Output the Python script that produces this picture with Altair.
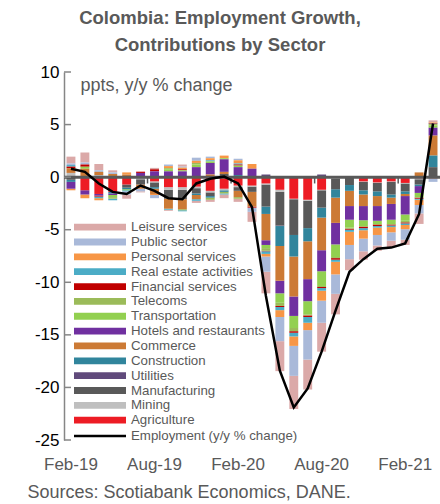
import altair as alt
import pandas as pd

FONT = "Liberation Sans"

months = ["Feb-19", "Mar-19", "Apr-19", "May-19", "Jun-19", "Jul-19", "Aug-19", "Sep-19",
          "Oct-19", "Nov-19", "Dec-19", "Jan-20", "Feb-20", "Mar-20", "Apr-20", "May-20",
          "Jun-20", "Jul-20", "Aug-20", "Sep-20", "Oct-20", "Nov-20", "Dec-20", "Jan-21",
          "Feb-21", "Mar-21", "Apr-21"]
tick_months = ["Feb-19", "Aug-19", "Feb-20", "Aug-20", "Feb-21"]
boundary_months = ["Aug-19", "Feb-20", "Aug-20", "Feb-21"]
y_ticks = [10, 5, 0, -5, -10, -15, -20, -25]

sectors = ["Leisure services", "Public sector", "Personal services", "Real estate activities",
           "Financial services", "Telecoms", "Transportation", "Hotels and restaurants",
           "Commerce", "Construction", "Utilities", "Manufacturing", "Mining", "Agriculture"]
colors = ["#DBA9A8", "#A9B9D9", "#F79646", "#4BACC6", "#C00000", "#9BBB59", "#92D050",
          "#7030A0", "#CC7A35", "#31859C", "#604A7B", "#595959", "#BFBFBF", "#ED1C24"]

leisure = [0.65, 0.95, 0.6, 0.2, -0.4, -0.1, 0.13, -0.1, 0.2, -0.2, -0.2, -0.35, -0.3, -0.95,
           -2.05, -2.85, -3.15, -2.85, -2.75, -1.95, -1.05, -0.8, -0.5, -0.6, -0.5, -1.0, 0.2]
public = [0.15, 0.2, 0.15, 0.15, -0.3, -0.25, -0.3, 0.15, 0.1, 0.3, 0.15, 0.0, 0.15, -0.4,
          -1.45, -2.3, -2.85, -2.8, -2.1, -1.85, -1.35, -1.2, -1.0, -0.8, -1.0, -0.8, -0.3]
personal = [-0.15, -0.35, -0.2, 0.0, 0.2, 0.0, -0.1, 0.2, 0.15, 0.2, 0.2, 0.25, 0.3, 0.45,
            -0.25, -0.65, -0.9, -0.7, -0.95, -1.2, -1.25, -0.8, -0.7, -0.5, -0.4, -0.5, 0.05]
real_estate = [0.15, 0.0, -0.15, -0.15, -0.1, 0.0, 0.0, -0.1, -0.1, -0.15, 0.1, -0.1, 0.1, 0.0,
               -0.25, -0.3, -0.35, -0.55, -0.25, -0.2, -0.2, -0.2, -0.15, -0.15, -0.15, -0.1, 0.05]
financial = [0.15, 0.2, -0.1, 0.0, 0.0, 0.12, 0.2, 0.0, 0.1, 0.0, 0.0, 0.0, 0.1, -0.1,
             -0.05, -0.1, -0.15, -0.15, -0.1, -0.15, -0.1, -0.15, -0.15, -0.1, -0.1, -0.1, 0.05]
telecoms = [0.0, 0.0, 0.0, -0.15, 0.0, 0.0, 0.0, 0.1, -0.1, 0.15, -0.2, -0.15, -0.15, 0.0,
            -0.25, -0.3, -0.3, -0.1, -0.1, -0.1, -0.1, 0.1, 0.1, 0.1, -0.15, -0.05, 0.15]
transport = [0.0, 0.2, 0.0, -0.2, -0.1, 0.0, 0.0, 0.2, 0.1, 0.25, 0.15, 0.1, 0.15, 0.0,
             -0.3, -0.9, -1.15, -1.25, -1.4, -1.2, -0.75, -0.6, -0.35, -0.45, -0.6, -0.4, 0.2]
hotels = [-0.65, -0.4, -0.15, -0.15, 0.0, 0.4, 0.55, 0.55, 0.55, 0.95, 1.1, 1.2, 0.75, 0.8,
          -0.45, -1.2, -1.85, -2.1, -2.0, -2.05, -1.3, -1.35, -1.4, -1.5, -1.75, -0.65, 0.75]
commerce = [0.45, 0.8, 0.3, 0.3, 0.25, -0.4, -0.5, -0.95, -0.95, -0.4, 0.25, 0.2, -0.6, -1.4,
            -2.5, -3.3, -3.8, -3.6, -3.1, -2.4, -1.45, -1.1, -0.95, -0.6, -0.2, 0.45, 1.9]
construction = [-0.2, 0.0, 0.0, -0.15, -0.15, 0.0, -0.15, 0.0, 0.0, -0.15, -0.15, -0.15, 0.2, 0.0,
                -0.7, -1.9, -2.05, -1.25, -0.95, -0.8, -0.55, -0.4, -0.45, -0.3, -0.25, -0.15, 1.1]
utilities = [0.0, 0.0, 0.0, 0.0, 0.0, 0.0, 0.0, 0.0, 0.0, 0.0, 0.0, 0.0, 0.0, 0.0,
             0.25, -0.05, 0.0, 0.0, 0.25, 0.1, 0.1, 0.0, 0.0, 0.0, 0.0, 0.0, 0.0]
manufacturing = [-0.25, 0.0, 0.0, 0.0, -0.3, -0.5, -0.45, -0.85, -0.9, -0.5, -0.35, 0.3, -0.35, -0.5,
                 -2.1, -3.2, -3.4, -2.6, -1.65, -1.0, -0.7, -0.8, -0.8, -1.2, -0.75, -0.5, 0.95]
mining = [0.4, 0.0, 0.2, 0.0, 0.0, -0.2, -0.1, -0.25, -0.25, -0.15, -0.15, -0.15, -0.15, -0.1,
          -0.1, -0.2, -0.05, -0.1, -0.05, -0.15, -0.05, -0.05, -0.05, -0.05, -0.05, -0.1, -0.05]
agriculture = [0.0, -1.25, -1.6, -1.4, -0.7, 0.0, -0.4, -0.95, -0.95, -0.9, -1.3, -1.1, -0.8, -0.8,
               -0.6, -1.2, -2.05, -2.15, -1.2, 0.0, 0.0, -0.4, -0.5, -0.4, -0.55, -0.1, -0.1]

employment = [0.8, 0.5, -0.6, -1.4, -1.6, -0.8, -1.3, -2.0, -2.1, -0.6, -0.15, 0.05, -0.6, -2.85,
              -11.3, -18.4, -21.9, -20.1, -16.6, -12.7, -9.0, -7.8, -6.8, -6.7, -6.3, -3.5, 5.1]
LINE_NAME = "Employment (y/y % change)"

series = dict(zip(sectors, [leisure, public, personal, real_estate, financial, telecoms, transport,
                            hotels, commerce, construction, utilities, manufacturing, mining,
                            agriculture]))

rows = []
n = len(sectors)
for i, s in enumerate(sectors):
    for m, v in zip(months, series[s]):
        if v != 0:
            rows.append({"month": m, "sector": s, "value": v, "stack": n - 1 - i})
bar_df = pd.DataFrame(rows)
line_df = pd.DataFrame({"month": months, "value": employment, "series": LINE_NAME})
zero_df = pd.DataFrame({"value": [0]})
ytick_df = pd.DataFrame({"value": y_ticks})
xtick_df = pd.DataFrame({"month": boundary_months, "value": [0] * 4, "value2": [-0.6] * 4})

x_enc = alt.X(
    "month:N",
    scale=alt.Scale(domain=months, paddingInner=0.36, paddingOuter=0.18),
    axis=alt.Axis(values=tick_months, labelAngle=0, ticks=False, domain=False,
                  labelPadding=16, labelFontSize=17, labelColor="#595959", labelFont=FONT,
                  title="Sources: Scotiabank Economics, DANE.", titleX=-37, titleY=52,
                  titleAlign="left", titleBaseline="middle", titleAnchor="start",
                  titleFontSize=18, titleFontWeight="normal", titleColor="#595959",
                  titleFont=FONT),
)
y_scale = alt.Scale(domain=[-25, 10], nice=False, zero=False)
y_axis = alt.Axis(values=y_ticks, labelExpr="'' + datum.value", grid=False, ticks=False,
                  domainColor="#868686", domainWidth=1.5, labelFontSize=17,
                  labelColor="#000000", labelPadding=5, labelFont=FONT, labelFlush=False,
                  title="ppts, y/y % change", titleAngle=0, titleX=16, titleY=13,
                  titleAlign="left", titleBaseline="middle", titleFontSize=18,
                  titleFontWeight="normal", titleColor="#595959", titleFont=FONT)
y_enc = alt.Y("value:Q", scale=y_scale, axis=y_axis, stack="zero")

bars = alt.Chart(bar_df).mark_bar().encode(
    x=x_enc,
    y=y_enc,
    color=alt.Color(
        "sector:N",
        scale=alt.Scale(domain=sectors, range=colors),
        legend=alt.Legend(title=None, orient="none", legendX=29.35, legendY=148.5,
                          symbolType="M-4,-0.52H4V0.52H-4Z", symbolSize=169,
                          symbolStrokeWidth=0, symbolOpacity=1, symbolOffset=0,
                          labelFontSize=13.3, labelColor="#595959", labelFont=FONT,
                          labelOffset=24.35, rowPadding=0.85, padding=0, labelLimit=300),
    ),
    order=alt.Order("stack:Q", sort="ascending"),
)

zero_rule = alt.Chart(zero_df).mark_rule(color="#595959", strokeWidth=3).encode(
    y=alt.Y("value:Q", scale=y_scale, axis=y_axis)
)

y_tick_rules = alt.Chart(ytick_df).mark_rule(color="#868686", strokeWidth=1.5).encode(
    x=alt.value(0), x2=alt.value(7), y=alt.Y("value:Q", scale=y_scale, axis=y_axis)
)

x_tick_rules = alt.Chart(xtick_df).mark_rule(color="#595959", strokeWidth=1.5, xOffset=-7).encode(
    x=x_enc, y=alt.Y("value:Q", scale=y_scale, axis=y_axis), y2="value2:Q"
)

line = alt.Chart(line_df).mark_line(strokeWidth=2.5).encode(
    x=x_enc,
    y=alt.Y("value:Q", scale=y_scale, axis=y_axis),
    stroke=alt.Stroke(
        "series:N",
        scale=alt.Scale(domain=[LINE_NAME], range=["#000000"]),
        legend=alt.Legend(title=None, orient="none", legendX=28, legendY=356,
                          symbolType="M-4,0H4", symbolSize=169, symbolStrokeWidth=2.5,
                          symbolOffset=0, labelFontSize=13.3, labelColor="#595959",
                          labelFont=FONT, labelOffset=23, padding=0, labelLimit=300),
    ),
)

chart = alt.layer(bars, zero_rule, y_tick_rules, x_tick_rules, line).properties(
    width=376,
    height=368,
    padding={"left": 64, "top": 72, "right": 0, "bottom": 64},
    autosize=alt.AutoSizeParams(type="none"),
    title=alt.TitleParams(
        text=["Colombia: Employment Growth,", "Contributions by Sector"],
        font=FONT, fontSize=18.5, fontWeight="bold", color="#595959",
        anchor="middle", frame="group", dx=-32, offset=9, lineHeight=27,
    ),
).configure_view(stroke=None)

chart.save("out.html", embed_options={"renderer": "svg", "actions": False})
